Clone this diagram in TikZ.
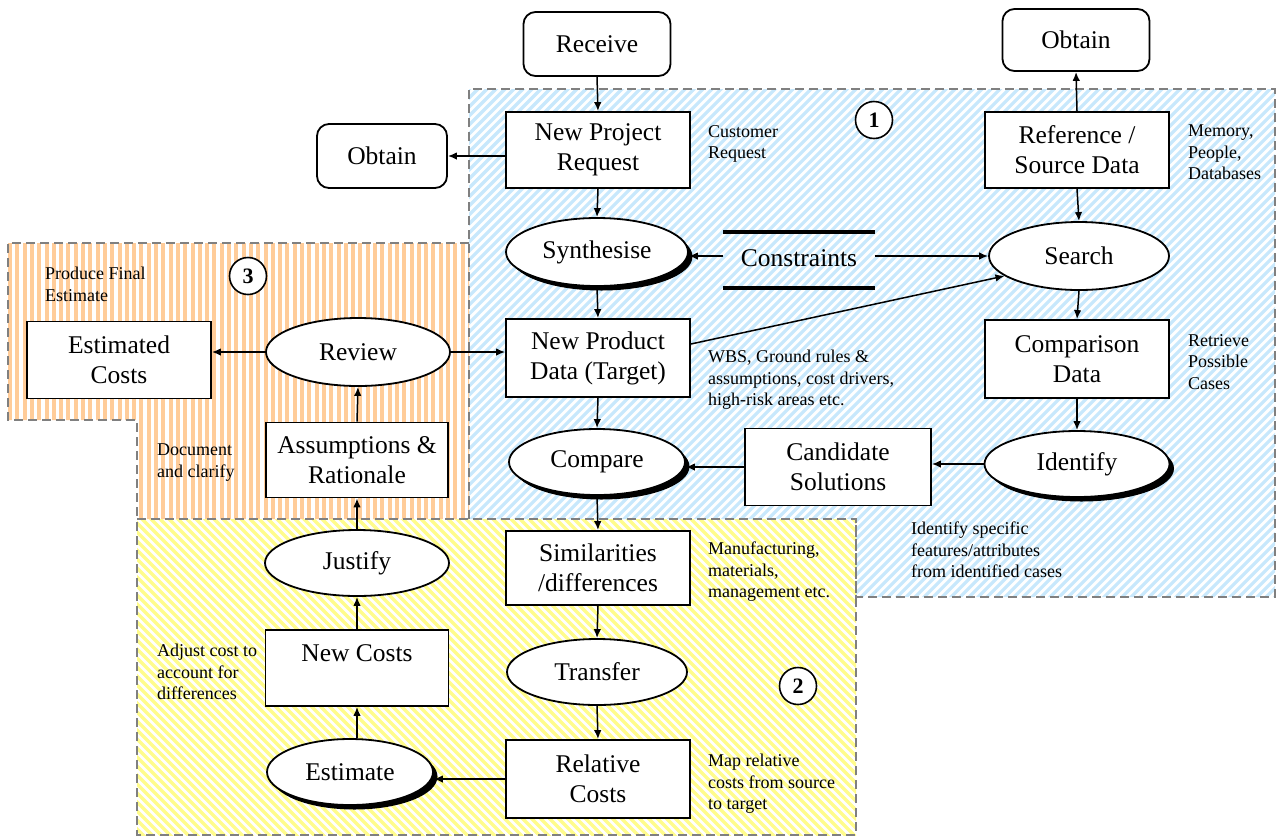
\documentclass[tikz,border=0pt]{standalone}
\usepackage{fontspec}
\setmainfont{Liberation Serif}
\usetikzlibrary{arrows.meta,shadows,shapes.geometric}
\definecolor{hblue}{RGB}{200,232,252}
\definecolor{horange}{RGB}{255,204,153}
\definecolor{hyellow}{RGB}{255,252,140}
\definecolor{dashgray}{RGB}{128,128,128}
\begin{document}
\begin{tikzpicture}[x=1pt,y=-1pt,
  big/.style={font=\fontsize{25.5}{30}\selectfont, align=center},
  small/.style={font=\fontsize{18}{21.5}\selectfont, align=left, anchor=north west, inner sep=0pt},
  box/.style={big, draw, fill=white, line width=1.8pt, inner sep=0pt},
  rbox/.style={box, rounded corners=12pt},
  oval/.style={big, ellipse, draw, fill=white, line width=1.8pt, inner sep=0pt},
  shad/.style={drop shadow={shadow xshift=4.5pt, shadow yshift=-4.5pt, opacity=1, fill=black}},
  arr/.style={-{Latex[length=9pt,width=7.5pt]}, line width=1.5pt},
  region/.style={draw=dashgray, line width=1.6pt, dash pattern=on 9pt off 5pt},
  num/.style={circle, draw, fill=white, line width=1.6pt, minimum size=37pt, inner sep=0pt, font=\fontsize{22}{22}\selectfont\bfseries}
]
\useasboundingbox (0,0) rectangle (1277,839);
% regions
\fill[white] (0,0) rectangle (1277,839);
\begin{scope}
  \clip (469,89) -- (1275,89) -- (1275,597) -- (856,597) -- (856,519) -- (469,519) -- cycle;
  \foreach \x in {-900,-891,...,1280} \draw[hblue, line width=3.2pt] (\x,900) -- (\x+900,0);
\end{scope}
\begin{scope}
  \clip (8,243) -- (469,243) -- (469,519) -- (137,519) -- (137,420) -- (8,420) -- cycle;
  \foreach \x in {10,17.3,...,472} \draw[horange, line width=4pt] (\x,240) -- (\x,522);
\end{scope}
\begin{scope}
  \clip (137,519) -- (856,519) -- (856,835) -- (137,835) -- cycle;
  \foreach \x in {-800,-791,...,860} \draw[hyellow, line width=3.2pt] (\x,0) -- (\x+900,900);
\end{scope}
\draw[region] (469,519) -- (469,89) -- (1275,89) -- (1275,597) -- (856,597) -- (856,519);
\draw[region] (469,243) -- (8,243) -- (8,420) -- (137,420) -- (137,519);
\draw[region] (137,519) -- (856,519) -- (856,835) -- (137,835) -- cycle;

% nodes
\node[rbox, minimum width=147pt, minimum height=64pt] (receive) at (597,44) {Receive};
\node[rbox, minimum width=147pt, minimum height=62pt] (obtainT) at (1076,40) {Obtain};
\node[rbox, minimum width=130pt, minimum height=64pt] (obtainL) at (382,156) {Obtain};
\node[box, minimum width=184pt, minimum height=76pt] (npr) at (598,150) {New Project\\Request};
\node[box, minimum width=184pt, minimum height=76pt] (ref) at (1077,150) {Reference /\\Source Data};
\node[oval, shad, minimum width=182pt, minimum height=68pt] (synth) at (597,252) {Synthesise};
\node[big, minimum width=151pt, minimum height=56pt, inner sep=0pt] (cons) at (799,260) {\raisebox{4pt}{Constraints}};
\draw[line width=3.5pt] (cons.north west) -- (cons.north east);
\draw[line width=3.5pt] (cons.south west) -- (cons.south east);
\node[oval, minimum width=180pt, minimum height=68pt] (search) at (1079,256) {Search};
\node[box, minimum width=184pt, minimum height=78pt] (npd) at (598,358) {New Product\\Data (Target)};
\node[box, minimum width=184pt, minimum height=78pt] (comp) at (1077,359) {Comparison\\Data};
\node[oval, minimum width=184pt, minimum height=68pt] (review) at (358,352) {Review};
\node[box, minimum width=184pt, minimum height=77pt] (estc) at (119,360) {Estimated\\Costs};
\node[oval, shad, minimum width=185pt, minimum height=66pt] (ident) at (1077,464) {Identify};
\node[box, minimum width=186pt, minimum height=77pt] (cand) at (838,467) {Candidate\\Solutions};
\node[oval, shad, minimum width=176pt, minimum height=66pt] (compare) at (597,462) {Compare};
\node[box, minimum width=182pt, minimum height=75pt] (assump) at (357,460) {Assumptions \&\\Rationale};
\node[oval, minimum width=184pt, minimum height=66pt] (justify) at (357,563) {Justify};
\node[box, minimum width=184pt, minimum height=74pt] (simil) at (598,568) {Similarities\\/differences};
\node[oval, minimum width=180pt, minimum height=66pt] (transfer) at (597,672) {Transfer};
\node[box, minimum width=183pt, minimum height=76pt] (newc) at (357,668) {New Costs\\\mbox{}};
\node[box, minimum width=184pt, minimum height=78pt] (relc) at (598,779) {Relative\\Costs};
\node[oval, shad, minimum width=166pt, minimum height=66pt] (estim) at (350,772) {Estimate};

\node[num] (n1) at (874,120) {1};
\node[num] (n2) at (798,686) {2};
\node[num] (n3) at (248,276) {3};

% annotations
\node[small] (a1) at (708,125) {Customer\\Request};
\node[small] (a2) at (1188,125) {Memory,\\People,\\Databases};
\node[small] (a3) at (45,267) {Produce Final\\Estimate};
\node[small] (a4) at (708,350) {WBS, Ground rules \&\\assumptions, cost drivers,\\high-risk areas etc.};
\node[small] (a5) at (1188,334) {Retrieve\\Possible\\Cases};
\node[small] (a6) at (157,444) {Document\\and clarify};
\node[small] (a7) at (911,522) {Identify specific\\features/attributes\\from identified cases};
\node[small] (a8) at (708,542) {Manufacturing,\\materials,\\management etc.};
\node[small] (a9) at (157,644) {Adjust cost to\\account for\\differences};
\node[small] (a10) at (708,754) {Map relative\\costs from source\\to target};

% connectors
\draw[arr] (receive.south) -- (npr.north);
\draw[arr] (obtainL.east -| npr.west) -- (obtainL.east);
\draw[arr] (npr.south) -- (synth.north);
\draw[arr] ([yshift=4pt]cons.west) -- ([yshift=4pt]cons.west -| synth.east);
\draw[arr] ([yshift=4pt]cons.east) -- ([yshift=4pt]cons.east -| search.west);
\draw[arr] (synth.south) -- (npd.north);
\draw[arr] (ref.north) -- (obtainT.south);
\draw[arr] (ref.south) -- (search.north);
\draw[arr] (search.south) -- (comp.north);
\draw[arr] ([yshift=14pt]npd.east) -- (search.195);
\draw[arr] (comp.south) -- (ident.north);
\draw[arr] (ident.west) -- (ident.west -| cand.east);
\draw[arr] (cand.west) -- (cand.west -| compare.east);
\draw[arr] (npd.south) -- (compare.north);
\draw[arr] (compare.south) -- (simil.north);
\draw[arr] (simil.south) -- (transfer.north);
\draw[arr] (transfer.south) -- (relc.north);
\draw[arr] (relc.west) -- (relc.west -| estim.east);
\draw[arr] (estim.north -| newc.south) -- (newc.south);
\draw[arr] (newc.north) -- (justify.south);
\draw[arr] (justify.north) -- (assump.south);
\draw[arr] (assump.north) -- (review.south);
\draw[arr] (review.west) -- (review.west -| estc.east);
\draw[arr] (review.east) -- (review.east -| npd.west);
\end{tikzpicture}
\end{document}
